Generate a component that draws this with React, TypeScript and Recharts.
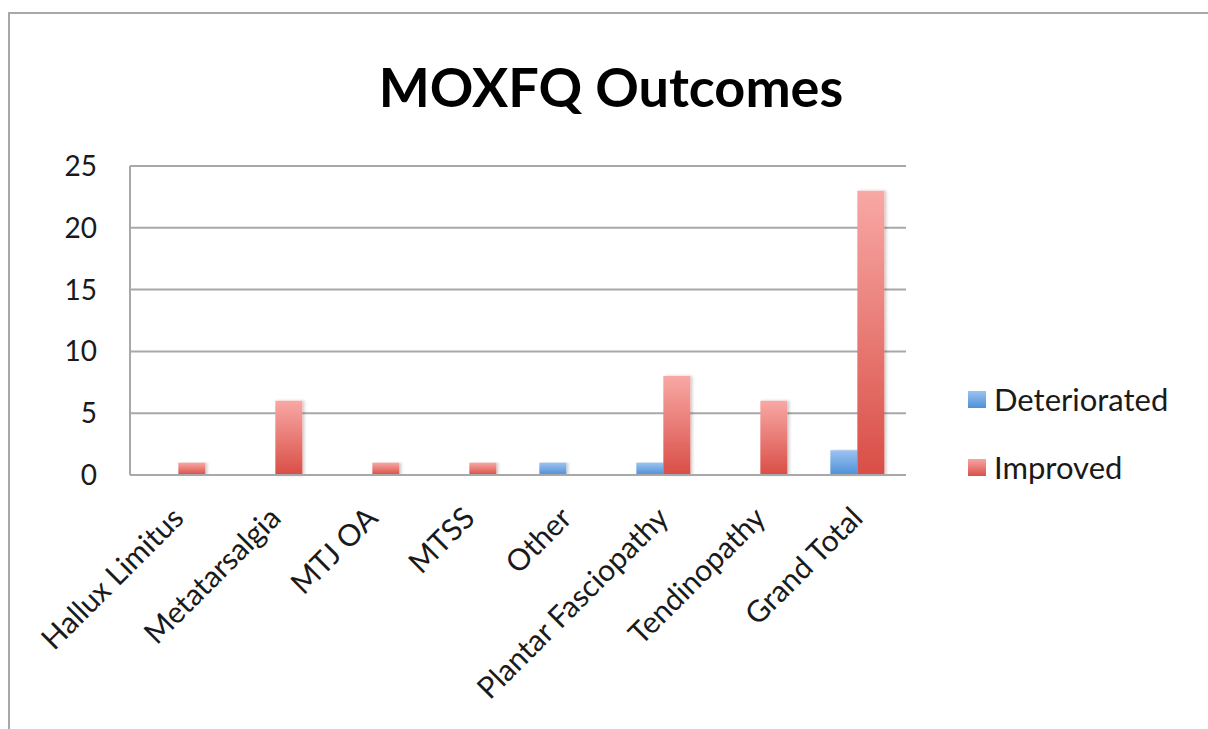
import { BarChart, Bar, XAxis, YAxis, CartesianGrid } from 'recharts'

const CATEGORIES = ['Hallux Limitus', 'Metatarsalgia', 'MTJ OA', 'MTSS', 'Other', 'Plantar Fasciopathy', 'Tendinopathy', 'Grand Total']
const DETERIORATED = [0, 0, 0, 0, 1, 1, 0, 2]
const IMPROVED = [1, 6, 1, 1, 0, 8, 6, 23]
const Y_TICKS = [0, 5, 10, 15, 20, 25]

const FONT = 'Lato, "Open Sans", sans-serif'
const TEXT = '#1a1a1a'
const LINE = '#a8a8a8'

const data = CATEGORIES.map((name, i) => ({
  name,
  Deteriorated: DETERIORATED[i],
  Improved: IMPROVED[i],
}))

// rotated category label, anchored at its end just below the axis
function SlantTick({ x, y, payload }: { x?: number; y?: number; payload?: { value: string } }) {
  return (
    <g transform={`translate(${(x ?? 0) + 7},${(y ?? 0) + 37})`}>
      <text x={0} y={0} textAnchor="end" transform="rotate(-45)" fontFamily={FONT} fontSize={30} fill={TEXT}>
        {payload?.value}
      </text>
    </g>
  )
}

const LEGEND = [
  { label: 'Deteriorated', grad: 'linear-gradient(#9cc3f0, #4d90d8)', top: 381 },
  { label: 'Improved', grad: 'linear-gradient(#f7a5a3, #d9524a)', top: 449 },
]

export default function App() {
  return (
    <div style={{ position: 'absolute', left: 0, top: 0, width: 1208, height: 729, background: '#fff', overflow: 'hidden' }}>
      {/* outer frame of the chart object */}
      <div style={{ position: 'absolute', left: 8, top: 12, width: 1300, height: 800, borderTop: `2px solid ${LINE}`, borderLeft: `2px solid ${LINE}` }} />
      <div style={{ position: 'absolute', left: 0, top: 0 }}>
        <BarChart
          width={1208}
          height={729}
          data={data}
          margin={{ top: 166, right: 302, left: 70, bottom: 224 }}
          barCategoryGap="22%"
          barGap={0}
        >
          <defs>
            <linearGradient id="gradBlue" x1="0" y1="0" x2="0" y2="1">
              <stop offset="0%" stopColor="#9cc3f0" />
              <stop offset="100%" stopColor="#4d90d8" />
            </linearGradient>
            <linearGradient id="gradRed" x1="0" y1="0" x2="0" y2="1">
              <stop offset="0%" stopColor="#f8a8a5" />
              <stop offset="100%" stopColor="#d94e46" />
            </linearGradient>
            <filter id="barShadow" x="-20%" y="-5%" width="140%" height="110%">
              <feDropShadow dx="2" dy="0" stdDeviation="1.5" floodColor="#000" floodOpacity="0.2" />
            </filter>
          </defs>
          <text x={611} y={107} textAnchor="middle" fontFamily={FONT} fontWeight={700} fontSize={54} fill="#000">
            MOXFQ Outcomes
          </text>
          <CartesianGrid vertical={false} stroke={LINE} strokeWidth={2} />
          <XAxis
            dataKey="name"
            height={30}
            interval={0}
            tick={<SlantTick />}
            tickLine={false}
            axisLine={{ stroke: LINE, strokeWidth: 2 }}
          />
          <YAxis
            width={60}
            domain={[0, 25]}
            ticks={Y_TICKS}
            interval={0}
            tickLine={false}
            tickSize={0}
            tickMargin={33}
            axisLine={{ stroke: LINE, strokeWidth: 2 }}
            tick={{ fontFamily: FONT, fontSize: 28, fill: TEXT }}
          />
          <Bar dataKey="Deteriorated" fill="url(#gradBlue)" filter="url(#barShadow)" isAnimationActive={false} />
          <Bar dataKey="Improved" fill="url(#gradRed)" filter="url(#barShadow)" isAnimationActive={false} />
        </BarChart>
      </div>
      {LEGEND.map((it) => (
        <div
          key={it.label}
          style={{ position: 'absolute', left: 968, top: it.top, height: 36, display: 'flex', alignItems: 'center', fontFamily: FONT, color: TEXT }}
        >
          <div style={{ width: 18, height: 17, background: it.grad, marginRight: 8 }} />
          <span style={{ fontSize: 31, lineHeight: '36px' }}>{it.label}</span>
        </div>
      ))}
    </div>
  )
}
